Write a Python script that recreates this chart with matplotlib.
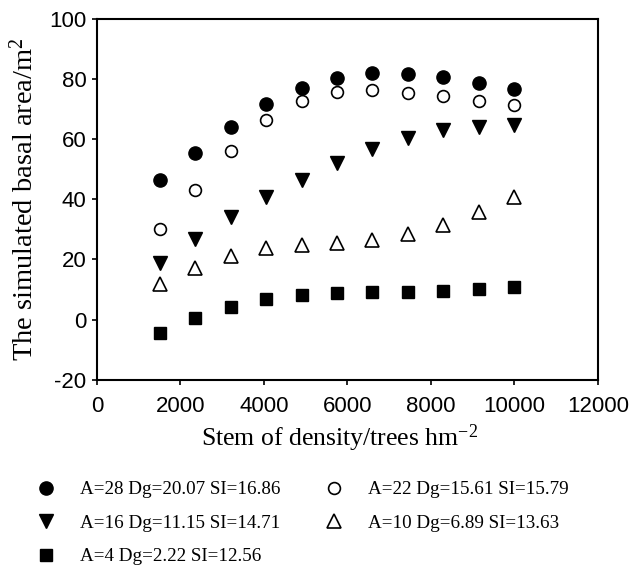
import matplotlib.pyplot as plt

# stand density (trees per hm2)
density = [1500, 2350, 3200, 4050, 4900, 5750, 6600, 7450, 8300, 9150, 10000]

# simulated basal area for each stand
ba_a28 = [46.4, 55.4, 64.2, 71.7, 77.1, 80.4, 82.0, 81.8, 80.7, 78.8, 76.7]
ba_a22 = [30.0, 43.1, 56.1, 66.3, 72.7, 75.7, 76.5, 75.5, 74.2, 72.8, 71.5]
ba_a16 = [18.9, 26.8, 34.2, 40.7, 46.4, 52.0, 56.8, 60.5, 62.9, 64.2, 64.7]
ba_a10 = [11.8, 17.3, 21.1, 23.7, 24.8, 25.5, 26.4, 28.4, 31.4, 35.7, 40.7]
ba_a4 = [-4.6, 0.5, 4.1, 6.9, 8.1, 8.9, 9.1, 9.3, 9.4, 10.0, 10.9]

labels = ['A=28 Dg=20.07 SI=16.86', 'A=22 Dg=15.61 SI=15.79',
          'A=16 Dg=11.15 SI=14.71', 'A=10 Dg=6.89 SI=13.63',
          'A=4 Dg=2.22 SI=12.56']

serif = 'Liberation Serif'
sans = 'Liberation Sans'

plt.rcParams['mathtext.fontset'] = 'custom'
plt.rcParams['mathtext.rm'] = serif
plt.rcParams['mathtext.it'] = serif
plt.rcParams['mathtext.default'] = 'rm'
plt.rcParams['axes.unicode_minus'] = False

fig = plt.figure(figsize=(6.3, 5.71), dpi=100)
ax = fig.add_axes([0.154, 0.335, 0.795, 0.632])

h1, = ax.plot(density, ba_a28, 'o', color='black', ms=9.5, ls='none')
h2, = ax.plot(density, ba_a22, 'o', mfc='white', mec='black', mew=1.2, ms=8.5, ls='none')
h3, = ax.plot(density, ba_a16, 'v', color='black', ms=10, ls='none')
h4, = ax.plot(density, ba_a10, '^', mfc='white', mec='black', mew=1.2, ms=10, ls='none')
h5, = ax.plot(density, ba_a4, 's', color='black', ms=9, ls='none')

ax.set_xlim(0, 12000)
ax.set_ylim(-20, 100)
ax.set_xticks(range(0, 12001, 2000))
ax.set_yticks(range(-20, 101, 20))
ax.tick_params(direction='out', length=3.5, width=1.2, labelsize=16)
ax.tick_params(axis='x', pad=8)
ax.tick_params(axis='y', pad=4)
for lab in ax.get_xticklabels() + ax.get_yticklabels():
    lab.set_fontfamily(sans)
for sp in ax.spines.values():
    sp.set_linewidth(1.5)

ax.set_xlabel('Stem of density/trees hm$^{-2}$', fontfamily=serif, fontsize=18.5, labelpad=4)
ax.xaxis.label.set_x(0.485)
ax.set_ylabel('The simulated basal area/m$^{2}$', fontfamily=serif, fontsize=20.5, labelpad=8)

# column-major order so rows read: 28/22, 16/10, 4
handles = [h1, h3, h5, h2, h4]
order = [0, 2, 4, 1, 3]
fig.legend(handles, [labels[i] for i in order], ncol=2, frameon=False,
           loc='upper left', bbox_to_anchor=(0.036, 0.174), borderpad=0,
           prop={'family': serif, 'size': 13.7}, handletextpad=1.0,
           columnspacing=2.1, labelspacing=0.85, handlelength=1.5)

fig.savefig('out.png', dpi=100)
